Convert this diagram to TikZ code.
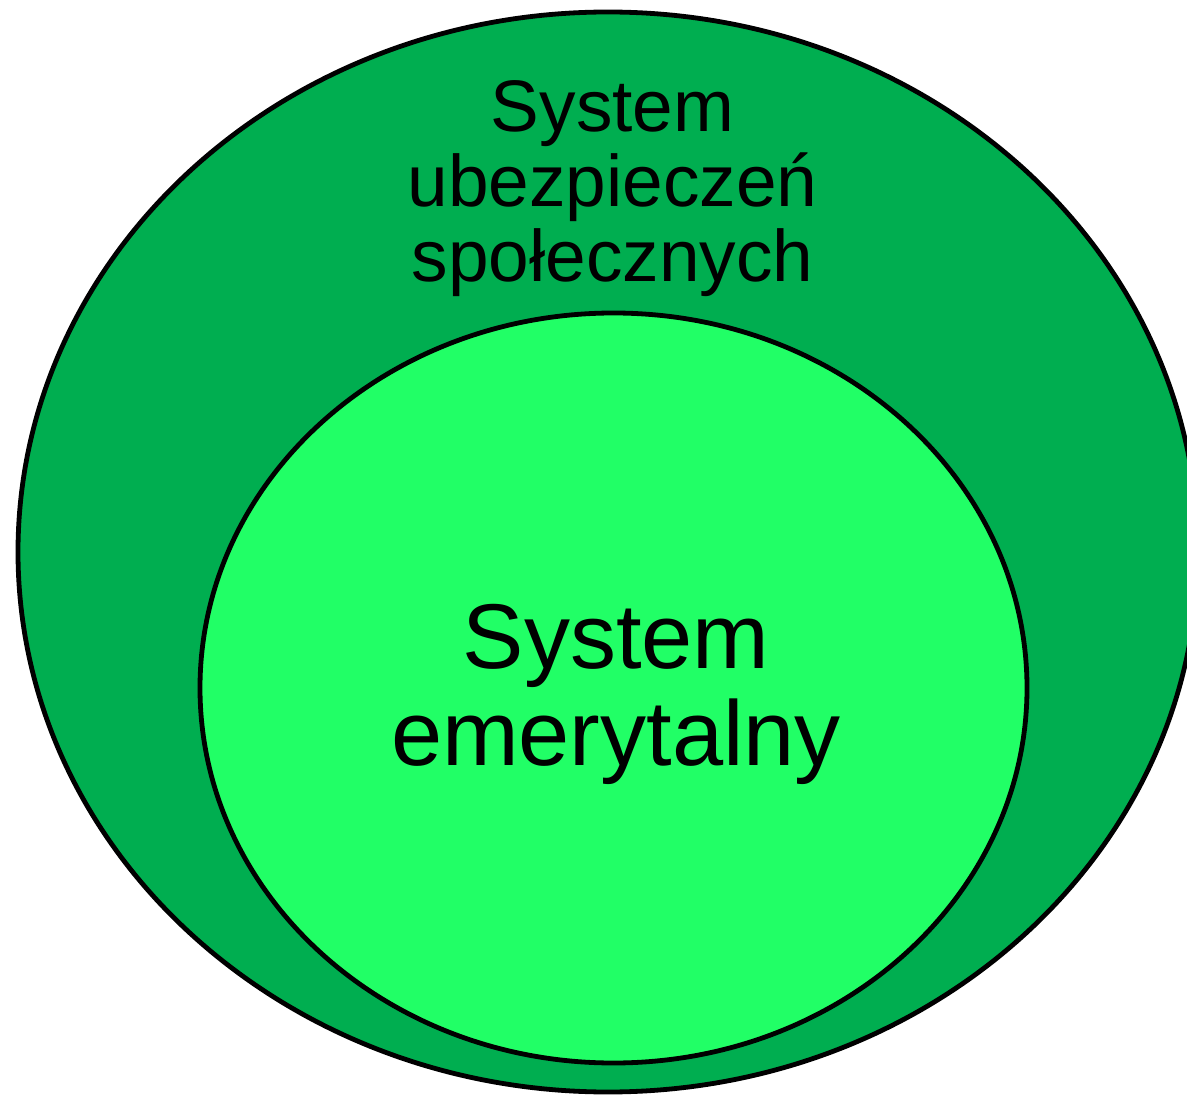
\documentclass[tikz,border=0pt]{standalone}
\usepackage{fontspec}
\setmainfont{Liberation Sans}
\usetikzlibrary{shapes.geometric}
\definecolor{darkgreen}{RGB}{0,174,80}
\definecolor{lightgreen}{RGB}{33,255,102}

\begin{document}
\begin{tikzpicture}[x=0.5pt,y=-0.5pt,
    ring/.style = {ellipse, draw=black, line width=2.4pt, inner sep=0pt},
    bigtext/.style = {align=center, inner sep=0pt, anchor=base,
        font=\fontsize{36.5}{37.5}\selectfont},
    hugetext/.style = {align=center, inner sep=0pt, anchor=base,
        font=\fontsize{46}{48.5}\selectfont}]
\useasboundingbox (0,0) rectangle (1187,1095);
\node[ring, fill=darkgreen, minimum width=590pt, minimum height=540pt]
    (social) at (608,552) {};
\node[ring, fill=lightgreen, minimum width=413.5pt, minimum height=375pt]
    (pension) at (613.5,688) {};
\node[bigtext] (sociallabel) at (612.5,282)
    {System\\ubezpieczeń\\społecznych};
\node[hugetext] (pensionlabel) at (616,765)
    {System\\emerytalny};
\end{tikzpicture}
\end{document}
